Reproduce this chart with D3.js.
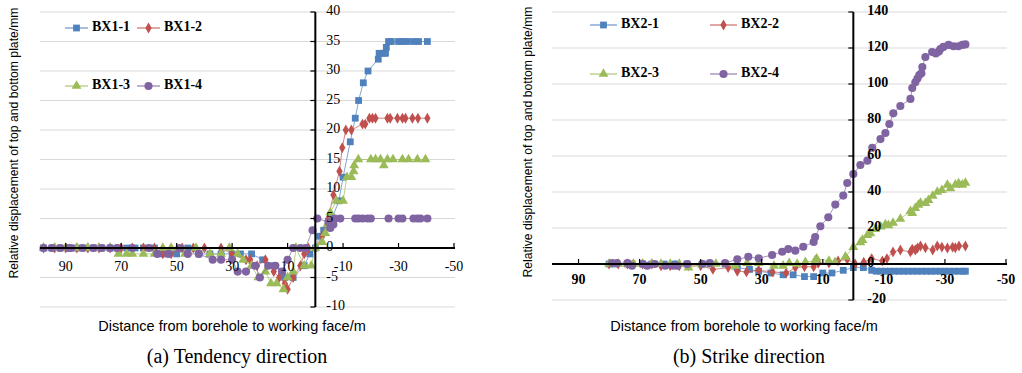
<!DOCTYPE html>
<html><head><meta charset="utf-8">
<script src="https://cdn.jsdelivr.net/npm/d3@7"></script>
<style>body{margin:0;background:#fff}svg{display:block}</style>
</head><body><svg id="c" width="1022" height="373"></svg>
<script>
// ---------- data: chart (a) Tendency direction ----------
const bx1_1_x=[98,95,92,89,86,83,80,77,74,71,68,65,62,58,55,50,46,42,38,34,30,27,23,19,15,12,11,8,4,2,0,-1.5,-3,-6,-8.5,-10,-12.6,-14.4,-15.6,-17.3,-19,-22.7,-23,-24.5,-25.3,-25.6,-26.4,-27.4,-30,-31.4,-33,-35.4,-37.2,-40.4];
const bx1_1_y=[0,0,0,0,0,0,0,0,0,0,0,0,0,0,-1,-1,0,-1,-1,-1,-1,-1,-1,-2,-3,-4,-5,-5,-3,-1,0,2,3,5,8,12,18,22,25,28,30,32,33,33,33,34,35,35,35,35,35,35,35,35];
const bx1_2_x=[98,94,90,86,82,78,74,70,66,62,58,55,52,48,44,40,34,30,25,23.5,21,18,15,13,11,10,8,5.4,4,2.5,0,-2.5,-4.7,-6.5,-8.7,-9.7,-11,-13,-17,-18,-19.5,-20.6,-21.7,-26,-27,-29.6,-31.4,-32.5,-35,-37,-40.4];
const bx1_2_y=[0,0,0,0,0,0,0,0,0,0,0,-1,-1,0,0,0,0,-1,-2,-2,-3,-2,-4,-5,-6,-7,-5,-3,-1,0,0,2,5,9,13,17,20,20,21,21,22,22,22,22,22,22,22,22,22,22,22];
const bx1_3_x=[98,94,90,86,82,78,74,71,68,66,62,58,55,52,47,43,38,34,31,28,26,23,20.6,18,16,14,11.5,10,8,7,4,1.5,0,-2.5,-3.6,-4.3,-5.4,-7.6,-10,-11.4,-13,-13.8,-14,-15.5,-20,-21.7,-23.5,-24.7,-26,-28,-31.4,-33.6,-36.8,-39.7];
const bx1_3_y=[0,0,0,0,0,0,0,-1,-1,-1,-1,-1,0,0,-1,0,-1,-1,0,-1,-2,-3,-5,-4,-6,-6,-7,-5,-4,0,-3,-3,0,1,2.5,4,6,8,8,12,12,13,14,15,15,15,15,14,15,15,15,15,15,15];
const bx1_4_x=[98,95,92,89,88,84,80,77,74,71.5,66,60,57,53,49,46,42,37,34,30,28,25,21.7,20,17,14.4,12,10,8,5.4,3.6,1,-0.7,-4.7,-5.4,-6.5,-7,-9,-14.4,-15.6,-17,-18.8,-20,-26.4,-30,-31.4,-35.4,-36.8,-37.9,-40.4];
const bx1_4_y=[0,0,0,0,0,0,0,0,0,0,0,0,-1,-1,0,-1,-1,-2,-2,-2,-4,-4,-3,-5,-3,-3,-4,-2,0,0,0,3,5,4.4,3.4,4,5,5,5,5,5,5,5,5,5,5,5,5,5,5];

// ---------- data: chart (b) Strike direction ----------
const bx2_1_x=[80,78,74,72.5,69,66,62,59,57.7,54.5,49.5,47,42,38,34,31,27,23,19.7,16,13,10,7,3.3,0,-3.3,-6,-7.5,-9,-10.5,-12,-13.5,-15,-16.5,-18,-19.5,-21,-22.5,-24,-25.5,-27,-28.5,-30,-31.5,-33,-34.5,-36,-36.7];
const bx2_1_y=[0,0,0,0,0,0,0,0,0,0,0,0,0,-2,-3,-4,-5,-6,-6,-7,-7,-5,-5,-3.5,-2,-2,-3.5,-4,-4,-4,-4,-4,-4,-4,-4,-4,-4,-4,-4,-4,-4,-4,-4,-4,-4,-4,-4,-4];
const bx2_2_x=[80,77,74,72,69,66,63,60,57,54,50,46,41,38,35,31,26.5,22,19,16,13,11.5,8,5,2,-0.6,-3.4,-6,-9.5,-11,-13,-15.4,-18.7,-19.3,-20.3,-21,-22,-23.6,-26,-27.5,-29,-30.8,-32.5,-33.4,-34.6,-36.7];
const bx2_2_y=[0,0,0,0,0,0,-1,-1,-1,-1,-1,-3,-2,-4,-4.4,-3.5,-4.4,-5,-2,-1.5,-1.5,0.4,0.5,1.7,2.6,0,1,3,1.7,3,6.7,7.8,6.7,8.3,7.8,8.9,10,9,7.8,10,9.4,8.9,9.4,9,10,10];
const bx2_3_x=[80,77,74,72,69,66,63,60,57,54,49.5,45,38.7,34.8,31,26,23,21,18.4,15.7,12.5,12,8,6,2.6,0,-2.3,-3,-4.6,-5.6,-7.2,-9,-10.5,-11.5,-13,-15.4,-18.7,-19.3,-20.3,-21.3,-22,-23.6,-24.6,-26,-27.5,-29,-30.8,-31.8,-33.4,-34.5,-35.7,-36.7];
const bx2_3_y=[0,0,0,0,0,0,0,0,0,-2,-0.5,0,-1,0.5,0.5,-1,-1,0.5,0,1,2,3,1.7,1,4,9.4,12,13.3,16,17,19.4,20.7,22,21.5,22.8,25,29.4,28.3,31,32.8,33.9,33.8,35.5,37.8,40,41,43.9,42,44,44.8,44,45];
const bx2_4_x=[79,77.4,74,72.5,69,67.5,65,61.6,59,57.7,54.4,49.5,47,42,38,34.4,31,26.6,23.3,21.3,19,16.4,13,12.5,10.8,8.2,5.9,3.3,2,0,-2.3,-4.6,-6.2,-8.9,-10.5,-11.8,-13.1,-15.4,-18.7,-19.3,-20.3,-21,-21.6,-22.3,-22.6,-23.6,-25.8,-27,-28,-28.5,-29.5,-31.2,-32.8,-34.4,-35.7,-36.7];
const bx2_4_y=[0.5,0.5,0.5,-1,0,-1,0,-1,-1,-1,0,0,0.5,0.5,2.6,4,3.2,5,6.8,8.3,7.4,9.6,12.2,15,21,26,33,38,45,50,55,57.4,64.6,69.4,72.8,77.8,83.7,87.8,91.7,97.8,101,103,105,106,109.4,115,117.8,117,118,119.4,120.6,121.7,121,121,121.7,122];

const xTicks=[90,70,50,30,10,-10,-30,-50];
const yTicksA=[-10,-5,0,5,10,15,20,25,30,35,40];
const yTicksB=[-20,0,20,40,60,80,100,120,140];
const namesA=["BX1-1","BX1-2","BX1-3","BX1-4"];
const namesB=["BX2-1","BX2-2","BX2-3","BX2-4"];
const colors=["#4f81bd","#c0504d","#9bbb59","#8064a2"];
const symbols=[d3.symbolSquare,d3.symbolDiamond,d3.symbolTriangle,d3.symbolCircle];
const symSize=[46,34,42,52];

const svg=d3.select("#c");
const SERIF="'Liberation Serif','Times New Roman',serif";
const SANS="'Liberation Sans',Arial,sans-serif";

function chart(cfg){
  const g=svg.append("g");
  const x=d3.scaleLinear().domain([100,-50]).range(cfg.xr);
  const y=d3.scaleLinear().domain(cfg.yd).range(cfg.yr);
  g.selectAll(".gl").data(cfg.yt).enter().append("line")
    .attr("x1",cfg.gx[0]).attr("x2",cfg.gx[1])
    .attr("y1",d=>y(d)).attr("y2",d=>y(d))
    .attr("stroke","#d9d9d9").attr("stroke-width",1);
  cfg.series.forEach((s,i)=>{
    const pts=s.x.map((v,k)=>[v,s.y[k]]);
    g.append("path").datum(pts)
      .attr("d",d3.line().x(d=>x(d[0])).y(d=>y(d[1])))
      .attr("fill","none").attr("stroke",colors[i]).attr("stroke-opacity",0.7).attr("stroke-width",1);
    g.selectAll(".m"+i).data(pts).enter().append("path")
      .attr("transform",d=>`translate(${x(d[0])},${y(d[1])})`)
      .attr("d",d3.symbol().type(symbols[i]).size(symSize[i]))
      .attr("fill",colors[i]);
  });
  const y0=y(0), x0=x(0);
  g.append("line").attr("x1",cfg.gx[0]).attr("x2",cfg.gx[1]).attr("y1",y0).attr("y2",y0)
    .attr("stroke","#000").attr("stroke-width",2);
  g.selectAll(".xt").data(xTicks).enter().append("line")
    .attr("x1",d=>x(d)).attr("x2",d=>x(d)).attr("y1",y0).attr("y2",y0-5)
    .attr("stroke","#000").attr("stroke-width",1.2);
  g.selectAll(".xl").data(xTicks).enter().append("text")
    .attr("x",d=>x(d)).attr("y",cfg.xly).attr("text-anchor","middle").attr("dominant-baseline","middle")
    .attr("font-family",SERIF).attr("font-size",14).attr("font-weight",cfg.bold?"bold":"normal")
    .text(d=>d);
  g.append("line").attr("x1",x0).attr("x2",x0).attr("y1",y(cfg.yd[0])).attr("y2",y(cfg.yd[1]))
    .attr("stroke","#000").attr("stroke-width",2);
  g.selectAll(".yt").data(cfg.yt).enter().append("line")
    .attr("x1",x0-5).attr("x2",x0).attr("y1",d=>y(d)).attr("y2",d=>y(d))
    .attr("stroke","#000").attr("stroke-width",1.2);
  g.selectAll(".yl").data(cfg.yt).enter().append("text")
    .attr("x",x0+cfg.ylx).attr("y",d=>y(d)).attr("dominant-baseline","middle")
    .attr("font-family",SERIF).attr("font-size",14).attr("font-weight",cfg.bold?"bold":"normal")
    .text(d=>d);
  g.append("text").attr("transform",`translate(${cfg.ytx},${cfg.yty}) rotate(-90)`)
    .attr("text-anchor","middle").attr("font-family",SANS).attr("font-size",12.2)
    .text("Relative displacement of top and bottom plate/mm");
  g.append("text").attr("x",cfg.xtx).attr("y",331).attr("text-anchor","middle")
    .attr("font-family",SANS).attr("font-size",14.5)
    .text("Distance from borehole to working face/m");
  g.append("text").attr("x",cfg.xtx+5).attr("y",363).attr("text-anchor","middle")
    .attr("font-family",SERIF).attr("font-size",20).text(cfg.caption);
  cfg.names.forEach((n,i)=>{
    const lx=cfg.leg[i%2], ly=cfg.legy[Math.floor(i/2)];
    g.append("line").attr("x1",lx).attr("x2",lx+cfg.legw).attr("y1",ly).attr("y2",ly)
      .attr("stroke",colors[i]).attr("stroke-width",1);
    g.append("path").attr("transform",`translate(${lx+cfg.legw/2},${ly})`)
      .attr("d",d3.symbol().type(symbols[i]).size(symSize[i])).attr("fill",colors[i]);
    g.append("text").attr("x",lx+cfg.legw+4).attr("y",ly).attr("dominant-baseline","middle")
      .attr("font-family",SERIF).attr("font-size",14).attr("font-weight","bold").text(n);
  });
}

chart({xr:[38,454],yd:[-10,40],yr:[307,12],gx:[40,455],yt:yTicksA,xly:268,ylx:11,bold:false,
  ytx:18,yty:143,xtx:232,caption:"(a) Tendency direction",names:namesA,leg:[65,137],legy:[28,86],legw:23,
  series:[{x:bx1_1_x,y:bx1_1_y},{x:bx1_2_x,y:bx1_2_y},{x:bx1_3_x,y:bx1_3_y},{x:bx1_4_x,y:bx1_4_y}]});
chart({xr:[548,1006],yd:[-20,140],yr:[300,12],gx:[552,1007],yt:yTicksB,xly:281,ylx:14,bold:true,
  ytx:532,yty:142,xtx:744,caption:"(b) Strike direction",names:namesB,leg:[590,710],legy:[25,74],legw:27,
  series:[{x:bx2_1_x,y:bx2_1_y},{x:bx2_2_x,y:bx2_2_y},{x:bx2_3_x,y:bx2_3_y},{x:bx2_4_x,y:bx2_4_y}]});
</script></body></html>
